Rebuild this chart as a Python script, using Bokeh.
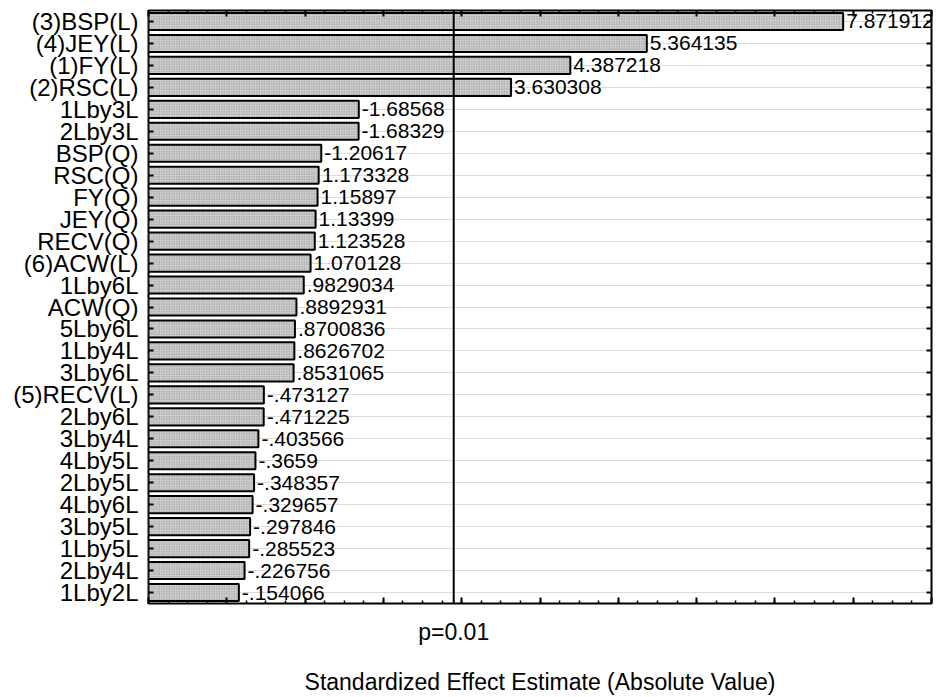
from bokeh.plotting import figure
from bokeh.models import (FactorRange, Range1d, LinearAxis, CategoricalAxis,
                          FixedTicker, SingleIntervalTicker, Span, LabelSet,
                          ColumnDataSource, CustomJSTickFormatter)
from bokeh.core.properties import value
from bokeh.embed import file_html
from bokeh.resources import INLINE

# Effects, ordered by absolute standardized estimate (largest first)
effects = ["(3)BSP(L)", "(4)JEY(L)", "(1)FY(L)", "(2)RSC(L)", "1Lby3L", "2Lby3L",
           "BSP(Q)", "RSC(Q)", "FY(Q)", "JEY(Q)", "RECV(Q)", "(6)ACW(L)",
           "1Lby6L", "ACW(Q)", "5Lby6L", "1Lby4L", "3Lby6L", "(5)RECV(L)",
           "2Lby6L", "3Lby4L", "4Lby5L", "2Lby5L", "4Lby6L", "3Lby5L",
           "1Lby5L", "2Lby4L", "1Lby2L"]
estimates = [7.871912, 5.364135, 4.387218, 3.630308, -1.68568, -1.68329,
             -1.20617, 1.173328, 1.15897, 1.13399, 1.123528, 1.070128,
             0.9829034, 0.8892931, 0.8700836, 0.8626702, 0.8531065, -0.473127,
             -0.471225, -0.403566, -0.3659, -0.348357, -0.329657, -0.297846,
             -0.285523, -0.226756, -0.154066]
p_critical = 2.898
p_label = "p=0.01"
x_title = "Standardized Effect Estimate (Absolute Value)"
x_min, x_max = -1, 9


def fmt(v):
    s = str(v)
    return s.replace("0.", ".", 1) if s.lstrip("-").startswith("0.") else s


src = ColumnDataSource(dict(
    effect=effects,
    absval=[abs(v) for v in estimates],
    base=[x_min] * len(effects),
    label=[fmt(v) for v in estimates],
))

FONT = "Liberation Sans"
blank = CustomJSTickFormatter(code="return ''")

p = figure(width=940, height=697,
           y_range=FactorRange(factors=list(reversed(effects))),
           x_range=Range1d(x_min, x_max),
           output_backend="svg", toolbar_location=None,
           min_border_left=148, min_border_right=9,
           min_border_top=10, min_border_bottom=92)
p.background_fill_color = "white"
p.border_fill_color = "white"
p.outline_line_color = "black"
p.outline_line_width = 2

p.xgrid.grid_line_color = None
p.ygrid.grid_line_color = "#dcdcdc"
p.ygrid.grid_line_width = 1

p.hbar(y="effect", left="base", right="absval", height=0.78, source=src,
       fill_color="#cfcfcf", hatch_pattern="dot", hatch_color="#858585",
       hatch_scale=2.5, hatch_weight=1,
       line_color="black", line_width=2)

p.add_layout(Span(location=p_critical, dimension="height",
                  line_color="black", line_width=2))

p.add_layout(LabelSet(x="absval", y="effect", text="label", source=src,
                      x_offset=3, text_baseline="middle", text_align="left",
                      text_font=value(FONT), text_font_size=value("21px"),
                      text_color="black"))

ticker = SingleIntervalTicker(interval=1, num_minor_ticks=4)


def style_x(ax):
    ax.ticker = ticker
    ax.formatter = blank
    ax.axis_line_color = None
    ax.major_tick_in = 6
    ax.major_tick_out = 0
    ax.minor_tick_in = 3
    ax.minor_tick_out = 0
    ax.major_tick_line_width = 2
    ax.minor_tick_line_width = 1.5
    ax.major_tick_line_color = "black"
    ax.minor_tick_line_color = "black"
    ax.major_label_text_font_size = "2px"
    ax.major_label_standoff = 0


style_x(p.xaxis[0])
top = LinearAxis()
style_x(top)
p.add_layout(top, "above")

# p-value caption and axis title on a second, tickless bottom axis
cap = LinearAxis(ticker=FixedTicker(ticks=[p_critical]),
                 major_label_overrides={p_critical: p_label})
cap.axis_line_color = None
cap.major_tick_line_color = None
cap.minor_tick_line_color = None
cap.major_tick_out = 0
cap.major_tick_in = 0
cap.major_label_text_font = FONT
cap.major_label_text_font_size = "23px"
cap.major_label_text_color = "black"
cap.major_label_standoff = 15
cap.axis_label = x_title
cap.axis_label_text_font = FONT
cap.axis_label_text_font_size = "23px"
cap.axis_label_text_font_style = "normal"
cap.axis_label_text_color = "black"
cap.axis_label_standoff = 21
p.add_layout(cap, "below")

ya = p.yaxis[0]
ya.axis_line_color = None
ya.major_tick_in = 5
ya.major_tick_out = 0
ya.major_tick_line_width = 2
ya.major_tick_line_color = "black"
ya.major_label_text_font = FONT
ya.major_label_text_font_size = "24px"
ya.major_label_text_color = "black"
ya.major_label_standoff = 10

right = CategoricalAxis()
right.formatter = blank
right.axis_line_color = None
right.major_tick_in = 5
right.major_tick_out = 0
right.major_tick_line_width = 2
right.major_tick_line_color = "black"
right.major_label_text_font_size = "2px"
right.major_label_standoff = 0
p.add_layout(right, "right")

open("out.html", "w").write(file_html(p, INLINE))
